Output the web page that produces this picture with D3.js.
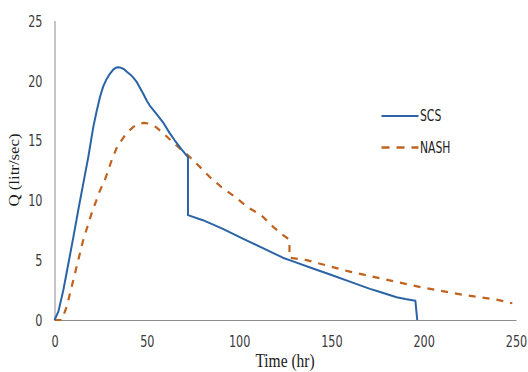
<!DOCTYPE html>
<html>
<head>
<meta charset="utf-8">
<script src="https://cdn.jsdelivr.net/npm/d3@7"></script>
<style>
  html, body { margin: 0; padding: 0; background: #fff; }
  svg { display: block; }
</style>
</head>
<body>
<svg id="chart" width="528" height="372"></svg>
<script>
// ---- data ----
const xTicks = [0, 50, 100, 150, 200, 250];
const yTicks = [0, 5, 10, 15, 20, 25];
const seriesNames = ["SCS", "NASH"];

const scsTime = [0, 2.1, 4.8, 7.5, 10.2, 12.9, 15.6, 18.3, 21, 22.8, 24.6, 26.4, 28.2, 30, 31.8, 33.2, 34.5, 36, 37.5, 39, 41, 42.6, 44.4, 46.2, 48, 50, 51.6, 55.2, 58.8, 62.4, 65.1, 68.5, 72.3, 72.3, 80.4, 91.2, 102, 112.9, 123.7, 130, 140, 149.3, 160, 170.9, 176, 185.3, 190, 195.5, 196.5];
const scsQ    = [0, 0.7, 2.5, 4.7, 6.9, 9.2, 11.4, 13.6, 16.1, 17.4, 18.6, 19.5, 20.1, 20.55, 20.9, 21.05, 21.1, 21.05, 20.95, 20.75, 20.5, 20.25, 19.9, 19.4, 18.9, 18.3, 17.9, 17.2, 16.5, 15.6, 15.0, 14.3, 13.6, 8.75, 8.33, 7.6, 6.8, 6.0, 5.2, 4.85, 4.3, 3.8, 3.2, 2.6, 2.36, 1.9, 1.75, 1.6, 0];

const nashTime = [0, 3.9, 6.6, 11.1, 15.6, 20.1, 24.6, 27.3, 30.9, 33.5, 36.3, 39, 42.6, 44.5, 46.2, 48.5, 50.7, 53, 55, 58.8, 65.1, 72.3, 78.6, 85, 90.4, 97.6, 104.8, 112, 118.3, 123.7, 127.3, 127.3, 136.6, 158.3, 176, 199.7, 221.4, 239.4, 248];
const nashQ    = [0, 0, 1.1, 3.9, 6.7, 8.9, 10.8, 11.7, 13.3, 14.3, 15.0, 15.6, 16.1, 16.3, 16.4, 16.45, 16.4, 16.25, 16.1, 15.6, 14.7, 13.75, 12.8, 11.8, 11.1, 10.3, 9.4, 8.75, 7.8, 7.1, 6.7, 5.2, 5.0, 4.1, 3.5, 2.7, 2.1, 1.7, 1.4];

// ---- layout ----
const svg = d3.select("#chart");
const x = d3.scaleLinear().domain([0, 250]).range([54.5, 516]);
const y = d3.scaleLinear().domain([0, 25]).range([320, 20.5]);
const stretch = 1.3;
const tickFont = "'Liberation Sans Narrow', 'DejaVu Sans Condensed', 'Roboto', sans-serif";
const serif = "'Liberation Serif', 'DejaVu Serif', serif";

// x axis
const gx = svg.append("g").attr("transform", `translate(0,${y(0)})`)
  .call(d3.axisBottom(x).tickValues(xTicks).tickSize(0).tickSizeOuter(0).tickPadding(0));
gx.select(".domain").attr("stroke", "#8c8c8c").attr("stroke-width", 1);
gx.selectAll(".tick text")
  .attr("y", 21 / stretch).attr("dy", "0.35em")
  .attr("transform", `scale(1,${stretch})`)
  .style("font-family", tickFont).style("font-size", "12.5px").attr("fill", "#3a3a3a");

// y axis
const gy = svg.append("g").attr("transform", `translate(${x(0)},0)`)
  .call(d3.axisLeft(y).tickValues(yTicks).tickSize(0).tickSizeOuter(0).tickPadding(0));
gy.select(".domain").attr("stroke", "#8c8c8c").attr("stroke-width", 1);
gy.selectAll(".tick text")
  .attr("x", -12).attr("y", 0).attr("dy", "0.35em")
  .attr("transform", `scale(1,${stretch})`)
  .style("font-family", tickFont).style("font-size", "12.5px").attr("fill", "#3a3a3a");

// lines
const line = d3.line().x(d => x(d[0])).y(d => y(d[1]));
const scsData = scsTime.map((t, i) => [t, scsQ[i]]);
const nashData = nashTime.map((t, i) => [t, nashQ[i]]);

const colors = { SCS: "#2a64a6", NASH: "#c0631f" };

svg.append("path").datum(nashData)
  .attr("d", line).attr("fill", "none")
  .attr("stroke", colors.NASH).attr("stroke-width", 2.2)
  .attr("stroke-dasharray", "7,7").attr("stroke-linejoin", "round");

svg.append("path").datum(scsData)
  .attr("d", line).attr("fill", "none")
  .attr("stroke", colors.SCS).attr("stroke-width", 2)
  .attr("stroke-linejoin", "round");

// legend
const legendY = [116, 147.5];
seriesNames.forEach((name, i) => {
  const ly = legendY[i];
  svg.append("line")
    .attr("x1", 381.5).attr("x2", 418.5).attr("y1", ly).attr("y2", ly)
    .attr("stroke", colors[name]).attr("stroke-width", i === 0 ? 2.2 : 2.4)
    .attr("stroke-dasharray", i === 0 ? null : "8,7");
  svg.append("text")
    .attr("transform", `translate(420,${ly}) scale(1,${stretch})`)
    .attr("dy", "0.35em")
    .style("font-family", tickFont).style("font-size", "12px").attr("fill", "#222")
    .text(name);
});

// axis titles
svg.append("text")
  .attr("transform", `translate(285,367) scale(1,1.2)`)
  .attr("text-anchor", "middle")
  .style("font-family", serif).style("font-size", "15.5px").attr("fill", "#1a1a1a")
  .text("Time  (hr)");

svg.append("text")
  .attr("transform", `translate(19,170) rotate(-90) scale(1.2,1)`)
  .attr("text-anchor", "middle")
  .style("font-family", serif).style("font-size", "14px").attr("fill", "#1a1a1a")
  .text("Q (litr/sec)");
</script>
</body>
</html>
